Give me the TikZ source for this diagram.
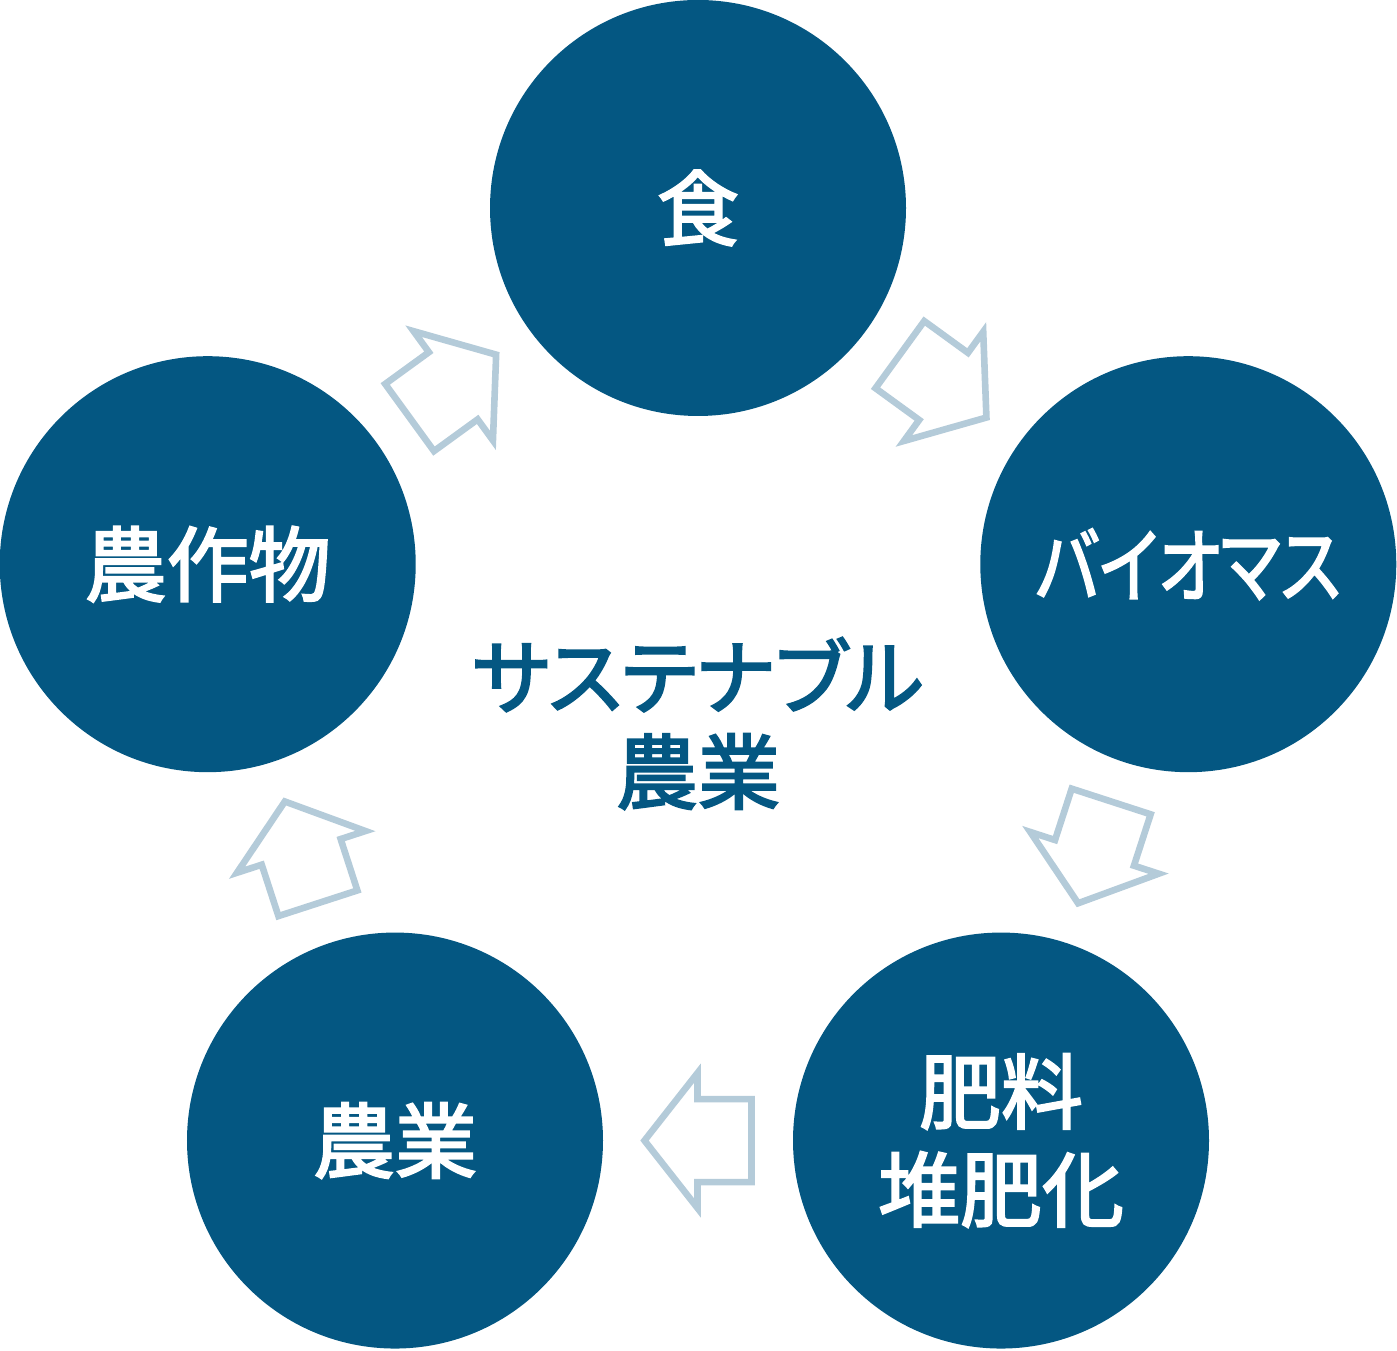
\documentclass[tikz,border=0pt]{standalone}
\usepackage{fontspec}
\newfontfamily\jp{Noto Sans CJK JP}[FakeBold=2.6]
\newfontfamily\jpp{Noto Sans CJK JP}[FakeBold=2.6,RawFeature=+palt]
\usetikzlibrary{calc}
\definecolor{circblue}{RGB}{4,87,130}
\definecolor{arrowgray}{RGB}{180,203,217}
\begin{document}
\begin{tikzpicture}[x=0.5pt,y=0.5pt,
  circ/.style={circle, fill=circblue, minimum size=208pt, inner sep=0pt, text=white,
    font=\jp\fontsize{41}{49}\selectfont, align=center},
  centertext/.style={text=circblue, inner sep=0pt, align=center,
    font=\jp\fontsize{41}{47.5}\selectfont},
  arrowline/.style={draw=arrowgray, line width=3.3pt, fill=white},
  blk/.pic={\path[arrowline] (-53.5,-41.5) -- (0.5,-41.5) -- (0.5,-67.5) -- (53.5,0)
      -- (0.5,67.5) -- (0.5,41.5) -- (-53.5,41.5) -- cycle;}]
\useasboundingbox (0,0) rectangle (1397,1350);
\coordinate (O) at (698,626.5);
\node[circ] (food) at ($(O)+(90:515.5)$) {食};
\node[circ] (biomass) at ($(O)+(18:515.5)$) {\scalebox{0.82}[1]{\jpp バイオマス}};
\node[circ] (fert) at ($(O)+(-54:515.5)$) {肥料\\堆肥化};
\node[circ] (agri) at ($(O)+(-126:515.5)$) {農業};
\node[circ] (crops) at ($(O)+(162:515.5)$) {農作物};
\node[centertext] (center) at (O) {{\jpp サステナブル}\\農業};
\path ($(crops)!0.5!(food)$) pic[rotate=36] {blk};
\path ($(food)!0.5!(biomass)$) pic[rotate=-36] {blk};
\path ($(biomass)!0.5!(fert)$) pic[rotate=-108] {blk};
\path ($(fert)!0.5!(agri)$) pic[rotate=180] {blk};
\path ($(agri)!0.5!(crops)$) pic[rotate=108] {blk};
\end{tikzpicture}
\end{document}
